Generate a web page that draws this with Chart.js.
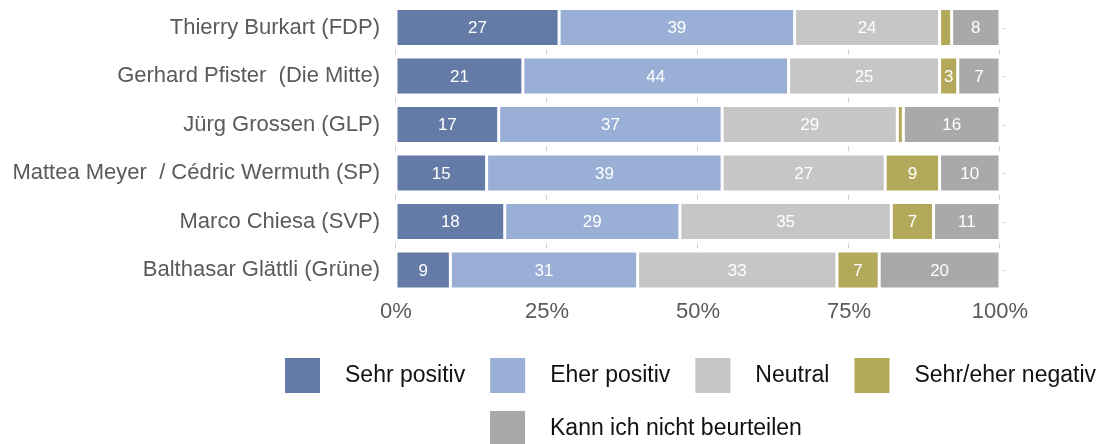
<!DOCTYPE html>
<html>
<head>
<meta charset="utf-8">
<script src="https://cdn.jsdelivr.net/npm/chart.js@4.4.1/dist/chart.umd.min.js"></script>
<style>
  html, body { margin: 0; padding: 0; background: #ffffff; }
  #wrap { width: 1112px; height: 444px; position: relative; }
</style>
</head>
<body>
<div id="wrap"><canvas id="c"></canvas></div>
<script>
const categories = [
  "Thierry Burkart (FDP)",
  "Gerhard Pfister  (Die Mitte)",
  "Jürg Grossen (GLP)",
  "Mattea Meyer  / Cédric Wermuth (SP)",
  "Marco Chiesa (SVP)",
  "Balthasar Glättli (Grüne)"
];
const seriesNames = ["Sehr positiv", "Eher positiv", "Neutral", "Sehr/eher negativ", "Kann ich nicht beurteilen"];
const sehrPositiv = [27, 21, 17, 15, 18, 9];
const eherPositiv = [39, 44, 37, 39, 29, 31];
const neutral     = [24, 25, 29, 27, 35, 33];
const negativ     = [2, 3, 1, 9, 7, 7];
const kannNicht   = [8, 7, 16, 10, 11, 20];
const xTickValues = [0, 25, 50, 75, 100];

const colors = ["#647ba7", "#9aafd6", "#c6c6c6", "#b3a95a", "#a9a9a9"];
const FONT = "'Liberation Sans', Arial, Helvetica, sans-serif";

const seriesValues = [sehrPositiv, eherPositiv, neutral, negativ, kannNicht];

const datasets = seriesValues.map((vals, i) => ({
  label: seriesNames[i],
  data: vals,
  backgroundColor: colors[i],
  borderColor: "#ffffff",
  borderWidth: 1.5,
  borderSkipped: false,
  barPercentage: 0.784,
  categoryPercentage: 1.0
}));

// small grey marks between bars at each x tick, plus right-side ticks
const marksPlugin = {
  id: "marks",
  beforeDatasetsDraw(chart) {
    const ctx = chart.ctx;
    const xs = chart.scales.x, ys = chart.scales.y;
    ctx.save();
    ctx.strokeStyle = "#d0d0d0";
    ctx.lineWidth = 1;
    for (let i = 0; i < categories.length - 1; i++) {
      const yMid = (ys.getPixelForValue(i) + ys.getPixelForValue(i + 1)) / 2;
      xTickValues.forEach(v => {
        const x = Math.round(xs.getPixelForValue(v)) - 0.5;
        ctx.beginPath();
        ctx.moveTo(x, yMid - 2.5);
        ctx.lineTo(x, yMid + 2.5);
        ctx.stroke();
      });
    }
    const xr = xs.getPixelForValue(100);
    for (let i = 0; i < categories.length; i++) {
      const y = Math.round(ys.getPixelForValue(i)) + 0.5;
      ctx.beginPath();
      ctx.moveTo(xr + 2, y);
      ctx.lineTo(xr + 5, y);
      ctx.stroke();
    }
    ctx.restore();
  }
};

// value labels inside segments
const valueLabels = {
  id: "valueLabels",
  afterDatasetsDraw(chart) {
    const ctx = chart.ctx;
    ctx.save();
    ctx.fillStyle = "#ffffff";
    ctx.font = "17px " + FONT;
    ctx.textAlign = "center";
    ctx.textBaseline = "middle";
    chart.data.datasets.forEach((ds, di) => {
      const meta = chart.getDatasetMeta(di);
      meta.data.forEach((el, idx) => {
        const v = ds.data[idx];
        if (v >= 3) {
          const p = el.getCenterPoint();
          ctx.fillText(String(v), p.x, p.y + 1);
        }
      });
    });
    ctx.restore();
  }
};

// custom legend laid out like the reference
const legendPlugin = {
  id: "customLegend",
  afterDraw(chart) {
    const ctx = chart.ctx;
    ctx.save();
    ctx.font = "23px " + FONT;
    ctx.textBaseline = "middle";
    ctx.textAlign = "left";
    const box = 35, gapText = 25, gapItem = 25;
    const rows = [[0, 1, 2, 3], [4]];
    const rowStartX = [285, 490];
    const rowTopY = [358, 411];
    rows.forEach((row, r) => {
      let x = rowStartX[r];
      const y = rowTopY[r];
      row.forEach(di => {
        const ds = chart.data.datasets[di];
        ctx.fillStyle = ds.backgroundColor;
        ctx.fillRect(x, y, box, box);
        ctx.fillStyle = "#111111";
        ctx.fillText(ds.label, x + box + gapText, y + box / 2);
        x += box + gapText + ctx.measureText(ds.label).width + gapItem;
      });
    });
    ctx.restore();
  }
};

new Chart(document.getElementById("c"), {
  type: "bar",
  data: { labels: categories, datasets },
  plugins: [marksPlugin, valueLabels, legendPlugin],
  options: {
    indexAxis: "y",
    responsive: true,
    maintainAspectRatio: false,
    animation: false,
    layout: { padding: { top: 3.25, right: 112, bottom: 109.75, left: 0 } },
    plugins: {
      legend: { display: false },
      tooltip: { enabled: false }
    },
    scales: {
      x: {
        stacked: true,
        min: 0, max: 100,
        afterBuildTicks(scale) { scale.ticks = xTickValues.map(v => ({ value: v })); },
        afterFit(scale) { scale.height = 40; scale.paddingLeft = 0; scale.paddingRight = 0; },
        grid: { display: false, drawTicks: false },
        border: { display: false },
        ticks: {
          callback: v => v + "%",
          color: "#5a5a5a",
          font: { family: FONT, size: 22 },
          padding: 4,
          maxRotation: 0
        }
      },
      y: {
        stacked: true,
        afterFit(scale) { scale.width = 396; scale.paddingTop = 0; scale.paddingBottom = 0; },
        grid: { display: false, drawTicks: false },
        border: { display: false },
        ticks: {
          color: "#5a5a5a",
          font: { family: FONT, size: 22 },
          padding: 16
        }
      }
    }
  }
});
</script>
</body>
</html>
